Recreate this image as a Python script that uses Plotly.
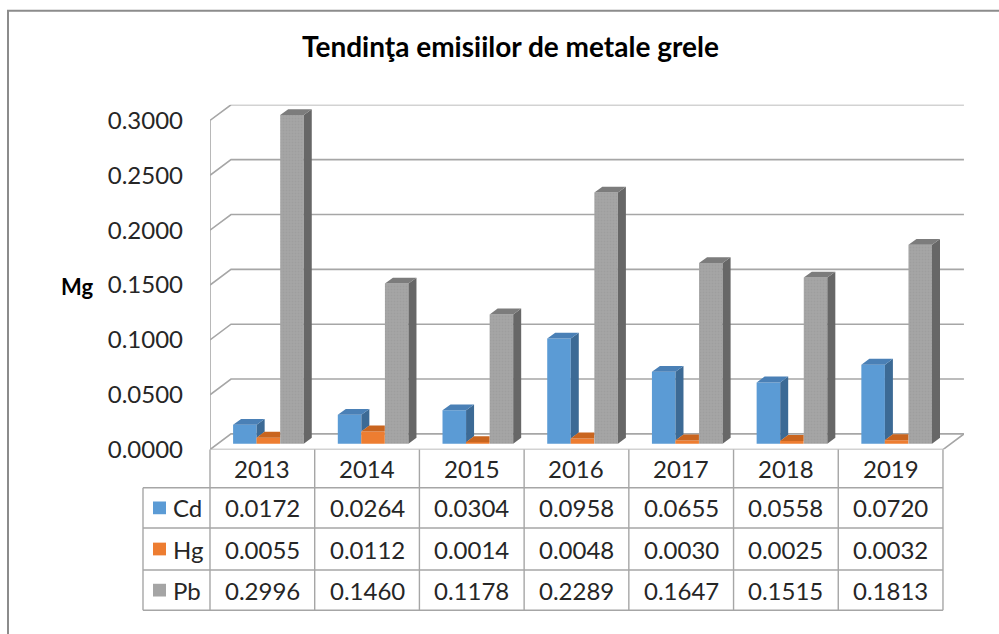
import plotly.graph_objects as go

# ---------------- data ----------------
years = ["2013", "2014", "2015", "2016", "2017", "2018", "2019"]
series_names = ["Cd", "Hg", "Pb"]
cd = [0.0172, 0.0264, 0.0304, 0.0958, 0.0655, 0.0558, 0.0720]
hg = [0.0055, 0.0112, 0.0014, 0.0048, 0.0030, 0.0025, 0.0032]
pb = [0.2996, 0.1460, 0.1178, 0.2289, 0.1647, 0.1515, 0.1813]
y_ticks = [0.0, 0.05, 0.10, 0.15, 0.20, 0.25, 0.30]
y_ticktext = ["0.0000", "0.0500", "0.1000", "0.1500", "0.2000", "0.2500", "0.3000"]
title_text = "Tendinţa emisiilor de metale grele"
y_title = "Mg"

series_values = [cd, hg, pb]

# ---------------- styles ----------------
front_colors = ["#5B9BD5", "#ED7D31", "#A5A5A5"]
top_colors = ["#4A80B6", "#C9651F", "#7C7C7C"]
side_colors = ["#3C6A95", "#AE561A", "#676767"]
grid_color = "#A6A6A6"
text_color = "#262626"
FONT = "Lato"

W, H = 999, 634
X0PX, COLW = 210, 104.71      # front-left of the floor, column width
Y0PX, YSCALE = 459, 1120      # front floor line, px per unit
DXPX, DYPX = 21, 16           # depth of the 3D box
n = len(years)
DX, DY = DXPX / COLW, DYPX / YSCALE
YMAX = 0.3

x_range = [-0.5, n - 0.5 + DX]
y_range = [0, YMAX + DY]
dom_x = [X0PX / W, (X0PX + COLW * n + DXPX) / W]
top_px = Y0PX - YMAX * YSCALE - DYPX
dom_y = [1 - Y0PX / H, 1 - top_px / H]

offsets = [-0.167, 0.057, 0.283]
BW = 0.225
BASE = 6 / YSCALE
BDX, BDY = 8 / COLW, 6 / YSCALE


def px(x):
    return x / W


def py(y):
    return 1 - y / H


fig = go.Figure()

# front faces (bars)
for k, name in enumerate(series_names):
    vals = series_values[k]
    bar = dict(
        x=[i + offsets[k] for i in range(n)], y=vals, base=[BASE] * n, width=BW,
        name=name, showlegend=False, hoverinfo="skip",
        marker=dict(color=front_colors[k], line=dict(width=0)),
    )
    if k == 2:
        bar["marker"]["pattern"] = dict(shape=".", fgcolor="#959595", size=3, solidity=0.25)
    fig.add_trace(go.Bar(**bar))

# top and side faces (computed from the values)
for k in range(3):
    vals = series_values[k]
    nxt = series_values[k + 1] if k < 2 else None
    tx, ty, sx, sy = [], [], [], []
    for i in range(n):
        h = vals[i]
        hn = nxt[i] if nxt is not None else None
        xl = i + offsets[k] - BW / 2
        xr = i + offsets[k] + BW / 2
        b = BASE
        if hn is None or hn < h:
            pts = [(xl, b + h), (xl + BDX, b + h + BDY), (xr + BDX, b + h + BDY), (xr, b + h)]
        else:
            pts = [(xl, b + h), (xl + BDX, b + h + BDY), (xr, b + h + BDY), (xr, b + h)]
        tx += [p[0] for p in pts] + [pts[0][0], None]
        ty += [p[1] for p in pts] + [pts[0][1], None]
        lo = None
        if hn is None:
            lo = 0
        elif hn < h:
            lo = hn
        if lo is not None:
            pts = [(xr, b + lo), (xr + BDX, b + lo + BDY), (xr + BDX, b + h + BDY), (xr, b + h)]
            sx += [p[0] for p in pts] + [pts[0][0], None]
            sy += [p[1] for p in pts] + [pts[0][1], None]
    if sx:
        fig.add_trace(go.Scatter(x=sx, y=sy, mode="lines", fill="toself",
                                 fillcolor=side_colors[k], line=dict(width=0),
                                 hoverinfo="skip", showlegend=False))
    fig.add_trace(go.Scatter(x=tx, y=ty, mode="lines", fill="toself",
                             fillcolor=top_colors[k], line=dict(width=0),
                             hoverinfo="skip", showlegend=False))

shapes = []
# back wall gridlines with the left-wall diagonal
for v in y_ticks:
    shapes.append(dict(type="path", xref="x", yref="y", layer="below",
                       path=f"M {-0.5},{v} L {-0.5 + DX},{v + DY} L {n - 0.5 + DX},{v + DY}",
                       line=dict(color=grid_color, width=1.6)))
# left wall front edge and floor edges
shapes.append(dict(type="path", xref="x", yref="y", layer="below",
                   path=f"M {-0.5},{YMAX} L {-0.5},0 L {n - 0.5},0 L {n - 0.5 + DX},{DY}",
                   line=dict(color=grid_color, width=1.6)))

# data table lines
row_y = [459, 498, 539, 582, 623]
leg_left = 143
for j in range(n + 1):
    xx = px(X0PX + j * COLW)
    shapes.append(dict(type="line", xref="paper", yref="paper",
                       x0=xx, x1=xx, y0=py(row_y[0]), y1=py(row_y[-1]),
                       line=dict(color=grid_color, width=1.4)))
shapes.append(dict(type="line", xref="paper", yref="paper",
                   x0=px(leg_left), x1=px(leg_left), y0=py(row_y[1]), y1=py(row_y[-1]),
                   line=dict(color=grid_color, width=1.4)))
for yy in row_y[1:]:
    shapes.append(dict(type="line", xref="paper", yref="paper",
                       x0=px(leg_left), x1=px(X0PX + n * COLW), y0=py(yy), y1=py(yy),
                       line=dict(color=grid_color, width=1.4)))

# legend keys
for k in range(3):
    yc = (row_y[k + 1] + row_y[k + 2]) / 2
    shapes.append(dict(type="rect", xref="paper", yref="paper",
                       x0=px(153), x1=px(166), y0=py(yc + 6.5), y1=py(yc - 6.5),
                       fillcolor=front_colors[k], line=dict(width=0)))

# outer chart border
shapes.append(dict(type="rect", xref="paper", yref="paper",
                   x0=px(8), x1=1.05, y0=-0.05, y1=py(11),
                   line=dict(color="#8C8C8C", width=2), fillcolor="rgba(0,0,0,0)"))

annotations = []
cell_font = dict(family=FONT, size=24, color=text_color)
for i, yr in enumerate(years):
    xc = px(X0PX + (i + 0.5) * COLW)
    annotations.append(dict(x=xc, y=py((row_y[0] + row_y[1]) / 2), xref="paper", yref="paper",
                            text=yr, showarrow=False, font=cell_font,
                            xanchor="center", yanchor="middle"))
    for k in range(3):
        yc = (row_y[k + 1] + row_y[k + 2]) / 2
        annotations.append(dict(x=xc, y=py(yc), xref="paper", yref="paper",
                                text=f"{series_values[k][i]:.4f}", showarrow=False,
                                font=cell_font, xanchor="center", yanchor="middle"))
for k, name in enumerate(series_names):
    yc = (row_y[k + 1] + row_y[k + 2]) / 2
    annotations.append(dict(x=px(171), y=py(yc), xref="paper", yref="paper",
                            text=name, showarrow=False, font=cell_font,
                            xanchor="left", yanchor="middle"))
annotations.append(dict(x=px(77), y=py(292), xref="paper", yref="paper",
                        text=f"<b>{y_title}</b>", showarrow=False,
                        font=dict(family=FONT, size=22, color="#000000"),
                        xanchor="center", yanchor="middle"))
annotations.append(dict(x=px(510), y=py(47), xref="paper", yref="paper",
                        text=f"<b>{title_text}</b>", showarrow=False,
                        font=dict(family=FONT, size=28, color="#000000"),
                        xanchor="center", yanchor="middle"))

fig.update_layout(
    width=W, height=H, autosize=False,
    margin=dict(l=0, r=0, t=0, b=0, pad=0),
    paper_bgcolor="white", plot_bgcolor="white",
    barmode="overlay",
    showlegend=False,
    shapes=shapes,
    annotations=annotations,
    xaxis=dict(domain=dom_x, range=x_range, showgrid=False, zeroline=False,
               showticklabels=False, ticks="", showline=False, fixedrange=True),
    yaxis=dict(domain=dom_y, range=y_range, showgrid=False, zeroline=False,
               tickmode="array", tickvals=y_ticks, ticktext=y_ticktext,
               ticks="", ticklabelstandoff=26, showline=False,
               tickfont=dict(family=FONT, size=24, color=text_color), fixedrange=True),
)

fig.write_html("out.html", config={"displayModeBar": False, "responsive": False},
               post_script="document.body.style.margin='0';")
